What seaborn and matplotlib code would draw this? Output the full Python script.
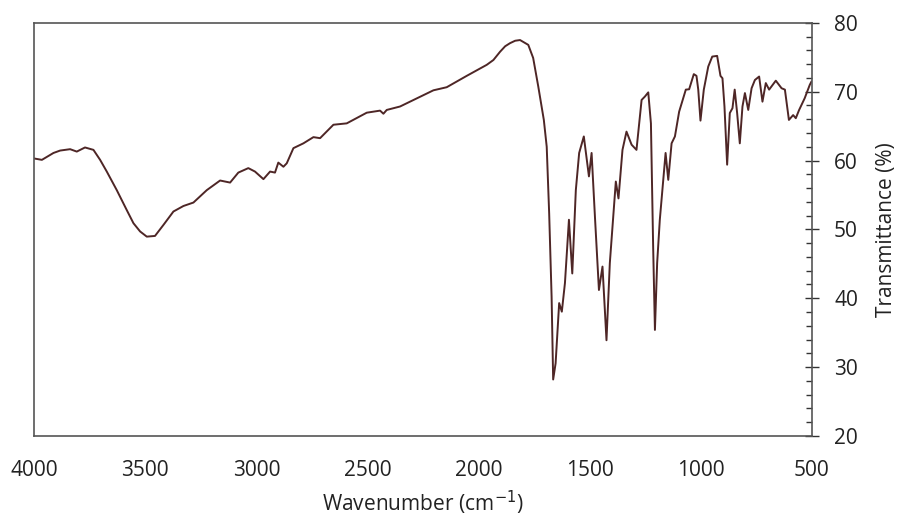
import numpy as np
import pandas as pd
import matplotlib
matplotlib.use("Agg")
import matplotlib.pyplot as plt
from matplotlib.ticker import MultipleLocator
import seaborn as sns

wavenumber = [4000, 3965, 3913, 3883, 3838, 3808, 3771, 3733, 3703, 3673,
              3628, 3583, 3553, 3523, 3493, 3456, 3418, 3373, 3328, 3283,
              3223, 3163, 3118, 3081, 3036, 3006, 2968, 2938, 2916, 2901,
              2878, 2863, 2833, 2788, 2743, 2713, 2653, 2593, 2503, 2443,
              2428, 2413, 2353, 2203, 2143, 2053, 1963, 1933, 1903, 1880,
              1858, 1835, 1813, 1776, 1754, 1731, 1706, 1693, 1682, 1671,
              1664, 1653, 1637, 1625, 1611, 1593, 1578, 1562, 1547, 1526,
              1503, 1491, 1476, 1458, 1442, 1424, 1409, 1382, 1370, 1352,
              1334, 1311, 1289, 1266, 1251, 1236, 1224, 1214, 1206, 1196,
              1184, 1158, 1146, 1131, 1116, 1097, 1067, 1052, 1031, 1019,
              1011, 1001, 986, 966, 948, 926, 911, 902, 893, 881,
              869, 857, 847, 836, 824, 812, 801, 786, 771, 756,
              737, 722, 707, 692, 662, 636, 621, 603, 584, 572,
              557, 532, 509, 501]
transmittance = [60.3, 60.1, 61.1, 61.45, 61.65, 61.3, 61.9, 61.55, 60.1, 58.4,
                 55.7, 52.8, 50.9, 49.7, 48.95, 49.05, 50.65, 52.6, 53.4, 53.9,
                 55.7, 57.1, 56.8, 58.25, 58.9, 58.4, 57.3, 58.4, 58.25, 59.7,
                 59.1, 59.6, 61.8, 62.5, 63.4, 63.25, 65.2, 65.4, 66.95, 67.25,
                 66.8, 67.35, 67.85, 70.2, 70.65, 72.3, 73.9, 74.6, 75.8, 76.6,
                 77.05, 77.4, 77.5, 76.8, 74.9, 70.75, 65.9, 62.0, 52.35, 40.2,
                 28.2, 30.55, 39.3, 38.05, 42.2, 51.4, 43.6, 55.7, 61.1, 63.5,
                 57.7, 61.1, 51.85, 41.2, 44.6, 33.9, 45.1, 56.95, 54.5, 61.55,
                 64.2, 62.3, 61.55, 68.8, 69.3, 69.9, 65.4, 47.5, 35.4, 45.1,
                 51.4, 61.1, 57.2, 62.5, 63.5, 67.1, 70.3, 70.35, 72.55, 72.3,
                 70.3, 65.8, 70.3, 73.65, 75.1, 75.2, 72.3, 71.95, 67.85, 59.4,
                 66.9, 67.6, 70.3, 66.9, 62.5, 67.85, 69.8, 67.35, 70.5, 71.7,
                 72.2, 68.55, 71.25, 70.3, 71.6, 70.5, 70.3, 65.9, 66.6, 66.15,
                 67.35, 69.05, 71.0, 71.5]

df = pd.DataFrame({"wn": wavenumber, "T": transmittance})

sns.set_style("white")
plt.rcParams['font.family'] = ['Open Sans', 'DejaVu Sans']

fig = plt.figure(figsize=(8.98, 5.19), dpi=100)
ax = fig.add_axes([0.038, 0.160, 0.866, 0.796])

sns.lineplot(data=df, x="wn", y="T", color="#4e2626", linewidth=1.4, ax=ax)

ax.set_xlim(4000, 500)
ax.set_ylim(20, 80)
ax.xaxis.set_major_locator(MultipleLocator(500))
ax.xaxis.set_minor_locator(MultipleLocator(100))
ax.yaxis.set_major_locator(MultipleLocator(10))
ax.yaxis.set_minor_locator(MultipleLocator(2))

ax.yaxis.tick_right()
ax.yaxis.set_label_position("right")
ax.tick_params(axis="both", which="major", direction="inout", length=10,
               width=1, color="#333333", labelsize=15, labelcolor="#222222")
ax.tick_params(axis="x", which="major", pad=12)
ax.tick_params(axis="y", which="major", pad=11)
ax.tick_params(axis="both", which="minor", direction="in", length=4.5,
               width=1, color="#333333")
ax.tick_params(axis="y", which="both", right=True, left=False)

for s in ax.spines.values():
    s.set_color("#555555")
    s.set_linewidth(1.2)

ax.set_xlabel("Wavenumber (cm$^{-1}$)", fontsize=15, labelpad=6, color="#222222")
ax.set_ylabel("Transmittance (%)", fontsize=15, labelpad=13, color="#222222")

fig.savefig("out.png", dpi=100)
